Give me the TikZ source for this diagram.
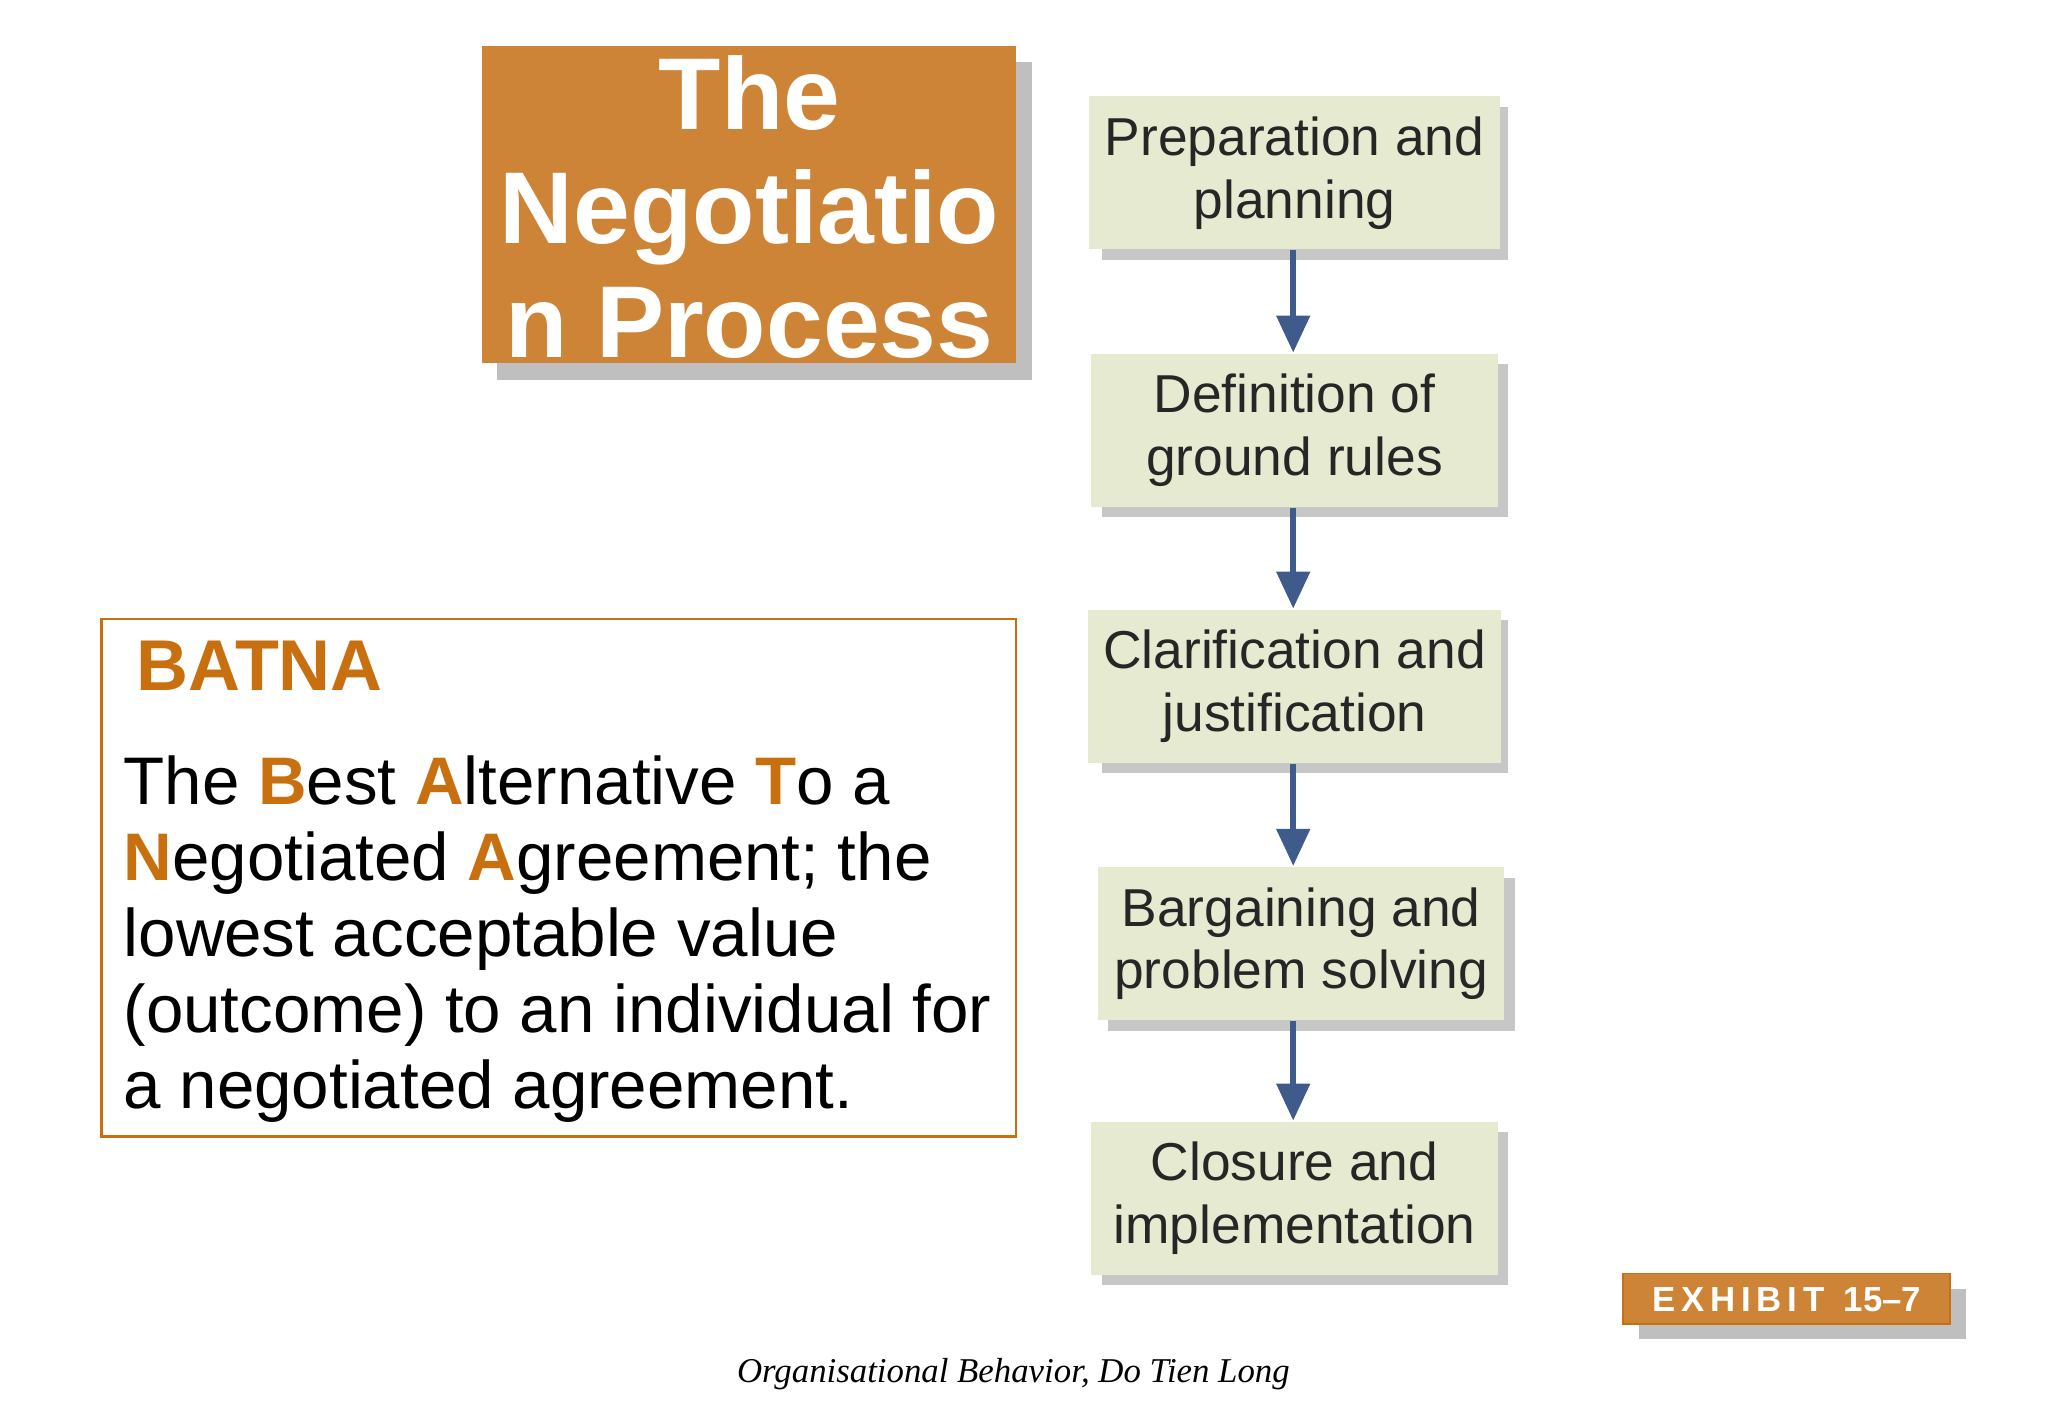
\documentclass[tikz,border=0pt]{standalone}
\usepackage{fontspec}
\setmainfont{Liberation Sans}
\newfontfamily\footfont{Liberation Serif}
\usetikzlibrary{positioning,arrows.meta}
\definecolor{stepfill}{HTML}{E6EAD0}
\definecolor{titleorange}{HTML}{CD8436}
\definecolor{batnaorange}{HTML}{C8700F}
\definecolor{flowblue}{HTML}{3F5B8C}
\tikzset{
  stage/.style = {draw=none, fill=stepfill, minimum width=3.08cm, minimum height=1.16cm,
    align=center, font=\fontsize{11.5}{13.5}\selectfont, text=black!85},
  stageshadow/.style = {fill=black!22},
  flow/.style = {draw=flowblue, line width=1.4pt, -{Triangle[length=8pt,width=7pt]}},
}
\begin{document}
\begin{tikzpicture}[x=0.01cm, y=-0.01cm]
\useasboundingbox (0,0) rectangle (1552,1072);
% title block
\fill[black!25] (377,47) rectangle (782,288);
\fill[titleorange] (365,35) rectangle (770,275);
\node (title) [text=white, font=\bfseries\fontsize{22}{24.5}\selectfont, align=center] at (568,157)
  {The\\Negotiatio\\n Process};
% BATNA block
\draw[batnaorange, line width=0.6pt] (77,469) rectangle (770,861);
\node (batna) [anchor=base west, text=batnaorange, font=\bfseries\fontsize{15.5}{18}\selectfont] at (91,523) {BATNA};
\node (defn) [anchor=north west, align=left, inner sep=0pt, font=\fontsize{14.5}{16.4}\selectfont] at (93,572)
  {The {\color{batnaorange}\bfseries B}est {\color{batnaorange}\bfseries A}lternative {\color{batnaorange}\bfseries T}o a\\
   {\color{batnaorange}\bfseries N}egotiated {\color{batnaorange}\bfseries A}greement; the\\
   lowest acceptable value\\
   (outcome) to an individual for\\
   a negotiated agreement.};
% stages
\foreach \yy/\xx in {73/827, 268/827, 462/827, 657/832, 850/827}
  \fill[stageshadow] (\xx+8,\yy+8) rectangle (\xx+316,\yy+124);
\node (prep)  [stage] at (981,131) {Preparation and\\planning};
\node (rules) [stage] at (981,326) {Definition of\\ground rules};
\node (clar)  [stage] at (981,520) {Clarification and\\justification};
\node (barg)  [stage] at (986,715) {Bargaining and\\problem solving};
\node (close) [stage] at (981,908) {Closure and\\implementation};
\draw[flow] (prep.south -| 980,0) -- (rules.north -| 980,0);
\draw[flow] (rules.south -| 980,0) -- (clar.north -| 980,0);
\draw[flow] (clar.south -| 980,0) -- (barg.north -| 980,0);
\draw[flow] (barg.south -| 980,0) -- (close.north -| 980,0);
% exhibit tag
\fill[black!25] (1242,977) rectangle (1490,1015);
\fill[titleorange, draw=batnaorange] (1230,965) rectangle (1478,1003);
\node (exhibit) [text=white, font=\bfseries\fontsize{7.5}{9}\selectfont] at (1354,985)
  {E\,X\,H\,I\,B\,I\,T\ \ 15--7};
% footer
\node (foot) [font=\footfont\itshape\fontsize{7.5}{9}\selectfont] at (768,1041)
  {Organisational Behavior, Do Tien Long};
\end{tikzpicture}
\end{document}
